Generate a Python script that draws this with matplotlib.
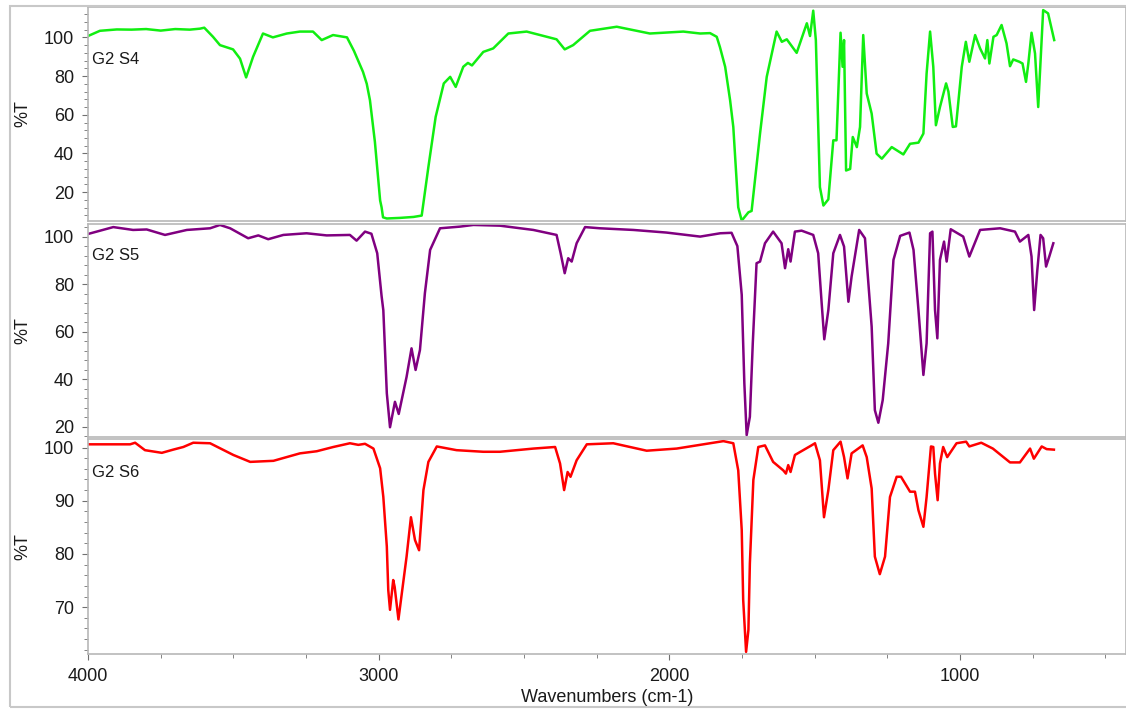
import numpy as np
import matplotlib
matplotlib.use("Agg")
import matplotlib.pyplot as plt
from matplotlib.patches import Rectangle
from matplotlib.ticker import MultipleLocator

plt.rcParams['font.family'] = ['Liberation Sans', 'DejaVu Sans']

# spectra: wavenumber (cm-1) and %T
s4_wn = [4000, 3959, 3901, 3850, 3800, 3750, 3700, 3650, 3615, 3600, 3570, 3546, 3501, 3477,
         3456, 3432, 3398, 3364, 3316, 3271, 3226, 3196, 3157, 3109, 3085, 3054, 3041, 3030,
         3013, 2995, 2990, 2985, 2972, 2927, 2880, 2852, 2829, 2804, 2776, 2754, 2735, 2709,
         2693, 2679, 2640, 2606, 2554, 2491, 2388, 2360, 2331, 2273, 2181, 2067, 1952, 1894,
         1860, 1837, 1826, 1808, 1791, 1780, 1768, 1763, 1751, 1728, 1717, 1688, 1665, 1631,
         1613, 1596, 1562, 1527, 1516, 1505, 1496, 1482, 1470, 1453, 1436, 1425, 1411, 1404,
         1399, 1392, 1378, 1369, 1355, 1344, 1333, 1321, 1304, 1287, 1269, 1235, 1195, 1172,
         1143, 1126, 1115, 1103, 1092, 1083, 1069, 1048, 1040, 1025, 1014, 994, 980, 968, 948,
         931, 914, 906, 899, 885, 874, 857, 840, 828, 817, 796, 785, 773, 765, 754, 742, 731,
         725, 714, 697, 676]
s4_t = [100.7, 103.4, 104.1, 104.0, 104.3, 103.5, 104.3, 104.0, 104.5, 105.0, 100.3, 96.0, 93.8, 89.0,
        79.3, 90.0, 102.0, 100.0, 102.0, 103.0, 103.0, 98.6, 101.2, 100.0, 93.0, 82.2, 76.0, 67.5,
        46.0, 15.7, 12.2, 7.0, 6.4, 6.7, 7.2, 7.9, 33.0, 58.9, 76.2, 79.6, 74.4, 84.8,
        86.8, 85.5, 92.5, 94.3, 102.0, 103.0, 99.0, 93.8, 96.0, 103.4, 105.5, 102.0, 103.0, 102.0,
        102.2, 100.3, 95.0, 84.8, 67.5, 53.7, 24.4, 12.2, 5.3, 9.6, 10.3, 50.3, 79.6, 103.0,
        97.7, 99.0, 92.0, 107.3, 100.7, 113.8, 98.6, 22.6, 13.1, 16.3, 46.8, 46.8, 102.4, 84.8,
        98.6, 31.2, 32.0, 48.5, 43.3, 53.7, 101.2, 71.0, 60.6, 39.9, 37.3, 43.3, 39.5, 45.0,
        45.6, 50.3, 81.3, 103.0, 84.8, 54.6, 64.0, 76.2, 72.0, 53.7, 54.0, 84.8, 97.7, 87.4, 101.2,
        94.3, 89.1, 98.6, 86.5, 100.3, 101.2, 106.4, 96.9, 85.1, 88.6, 87.4, 86.5, 77.0, 86.5, 102.4, 91.7, 64.0,
        81.3, 114.1, 112.4, 98.6]

s5_wn = [4000, 3913, 3845, 3798, 3735, 3660, 3580, 3546, 3511, 3449, 3414, 3380, 3328, 3248,
         3179, 3099, 3076, 3047, 3025, 3005, 2990, 2984, 2972, 2961, 2944, 2931, 2904, 2887,
         2873, 2858, 2841, 2823, 2789, 2720, 2674, 2583, 2468, 2388, 2374, 2360, 2348, 2336,
         2319, 2290, 2239, 2124, 2010, 1894, 1825, 1786, 1766, 1751, 1742, 1734, 1723, 1713,
         1700, 1688, 1671, 1643, 1614, 1602, 1591, 1583, 1568, 1545, 1505, 1488, 1476, 1467,
         1453, 1436, 1413, 1399, 1384, 1373, 1347, 1327, 1304, 1293, 1281, 1266, 1247, 1229,
         1206, 1174, 1160, 1143, 1126, 1115, 1103, 1095, 1086, 1078, 1069, 1055, 1046, 1032,
         989, 968, 931, 862, 811, 794, 765, 754, 745, 734, 723, 714, 704, 693, 679]
s5_t = [101.1, 104.0, 102.8, 103.0, 100.7, 102.8, 103.5, 104.9, 103.5, 99.3, 100.5, 98.9, 100.7, 101.4,
        100.5, 100.7, 98.3, 102.1, 101.2, 93.0, 75.0, 69.0, 34.1, 19.8, 30.5, 25.4, 41.0, 53.0,
        43.9, 52.3, 76.2, 94.4, 103.5, 104.2, 104.9, 104.6, 102.8, 100.7, 93.0, 84.6, 90.9, 89.5,
        97.2, 104.0, 103.5, 102.8, 101.7, 100.0, 101.4, 101.6, 96.0, 75.5, 38.3, 16.5, 24.2, 55.1,
        88.8, 89.5, 97.2, 102.1, 97.2, 86.7, 94.7, 89.5, 102.1, 102.5, 100.7, 93.0, 72.0, 56.8,
        69.1, 93.0, 100.7, 95.8, 72.6, 83.2, 102.8, 99.3, 62.1, 27.0, 21.7, 31.2, 55.1, 90.2,
        100.3, 101.7, 94.4, 69.1, 41.8, 55.1, 101.4, 102.1, 69.1, 57.2, 90.2, 97.9, 89.5, 103.1,
        100.0, 91.6, 102.8, 103.5, 102.1, 97.9, 100.7, 91.6, 69.1, 86.0, 100.7, 99.3, 87.4, 91.6, 97.2]

s6_wn = [4000, 3855, 3838, 3804, 3746, 3707, 3672, 3638, 3580, 3500, 3442, 3362, 3271, 3213,
         3156, 3099, 3070, 3047, 3018, 2995, 2984, 2972, 2967, 2961, 2950, 2945, 2932, 2904,
         2889, 2875, 2861, 2846, 2829, 2800, 2732, 2640, 2583, 2468, 2393, 2376, 2362, 2350,
         2340, 2319, 2284, 2193, 2078, 1975, 1883, 1814, 1780, 1763, 1751, 1746, 1736, 1728,
         1723, 1711, 1694, 1671, 1643, 1608, 1599, 1591, 1583, 1568, 1511, 1499, 1482, 1468,
         1453, 1436, 1411, 1399, 1387, 1373, 1335, 1321, 1304, 1293, 1276, 1258, 1241, 1218,
         1203, 1172, 1155, 1143, 1126, 1115, 1100, 1092, 1086, 1077, 1069, 1058, 1044, 1012,
         979, 968, 927, 887, 828, 794, 759, 746, 719, 702, 677]
s6_t = [100.6, 100.6, 100.9, 99.5, 99.0, 99.6, 100.1, 100.9, 100.8, 98.6, 97.3, 97.5, 98.9, 99.3,
        100.1, 100.8, 100.5, 100.7, 99.8, 96.1, 90.7, 81.4, 73.2, 69.5, 75.1, 73.8, 67.7, 79.5,
        86.9, 82.6, 80.7, 92.0, 97.3, 100.2, 99.5, 99.2, 99.2, 99.8, 100.1, 97.0, 92.0, 95.4,
        94.5, 97.6, 100.6, 100.8, 99.4, 99.8, 100.6, 101.2, 100.8, 95.7, 84.5, 71.4, 61.6, 65.7,
        78.2, 93.9, 100.1, 100.4, 97.3, 95.7, 95.1, 96.7, 95.4, 98.6, 100.4, 100.8, 97.6, 86.9,
        92.0, 99.5, 101.1, 98.2, 94.2, 98.9, 100.4, 98.2, 92.3, 79.5, 76.2, 79.5, 90.7, 94.5,
        94.5, 91.7, 91.7, 88.2, 85.1, 90.7, 100.2, 100.1, 95.1, 90.1, 97.0, 100.1, 98.2, 100.8,
        101.1, 100.2, 100.9, 99.8, 97.2, 97.2, 99.8, 97.9, 100.2, 99.7, 99.6]

names = ["G2 S4", "G2 S5", "G2 S6"]
colors = ["#11ee11", "#800080", "#ff0000"]

fig = plt.figure(figsize=(11.26, 7.11), dpi=100)

W, H = 1126, 711
left = 88 / W
width = 1 - left
# panel pixel extents (top, bottom)
panels = [(7, 221), (224, 437), (439, 654)]
ylims = [(5.1, 115.7), (15.7, 105.3), (61.2, 101.6)]
majors = [20, 20, 10]
minors = [4, 4, 2]
label_y = [0.757, 0.85, 0.844]
spectra = [(s4_wn, s4_t), (s5_wn, s5_t), (s6_wn, s6_t)]
edge = '#b8b8b8'

axes = []
for i, (top, bot) in enumerate(panels):
    ax = fig.add_axes([left, 1 - bot / H, width, (bot - top) / H])
    wn, t = spectra[i]
    ax.plot(wn, t, color=colors[i], lw=1.8)
    ax.set_xlim(4000, 429)
    ax.set_ylim(*ylims[i])
    ax.yaxis.set_major_locator(MultipleLocator(majors[i]))
    ax.yaxis.set_minor_locator(MultipleLocator(minors[i]))
    ax.xaxis.set_major_locator(MultipleLocator(1000))
    ax.xaxis.set_minor_locator(MultipleLocator(250))
    for s in ax.spines.values():
        s.set_color(edge)
        s.set_linewidth(1.2)
    ax.tick_params(which='both', direction='out', color='#707070', labelsize=13,
                   labelcolor='#1a1a1a')
    ax.tick_params(which='major', length=4, pad=6)
    ax.tick_params(which='minor', length=3)
    ax.set_ylabel('%T', fontsize=13, color='#1a1a1a')
    ax.yaxis.set_label_coords(-0.055, 0.5)
    ax.text(0.004, label_y[i], names[i], transform=ax.transAxes, fontsize=12,
            color='#1a1a1a', ha='left', va='center')
    if i < 2:
        ax.tick_params(axis='x', which='both', bottom=False, labelbottom=False)
    axes.append(ax)

axes[2].xaxis.set_major_formatter(lambda v, p: f"{v:.0f}")
fig.text(607 / W, 1 - 697 / H, 'Wavenumbers (cm-1)', ha='center', va='center',
         fontsize=13, color='#1a1a1a')

# outer frame of the viewer window
fig.patches.append(Rectangle((10 / W, 1 - 707 / H), 1.2, (707 - 6) / H,
                             transform=fig.transFigure, fill=False,
                             edgecolor='#c8c8c8', lw=1.5))

fig.savefig('out.png', dpi=100)
